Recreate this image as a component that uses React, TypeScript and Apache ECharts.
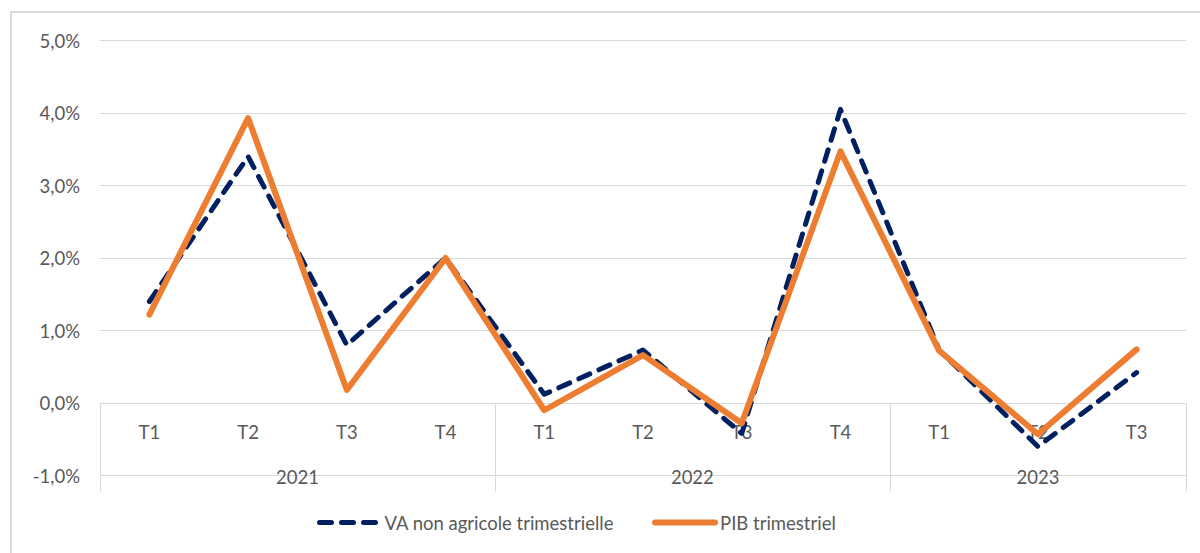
import React, { useEffect, useRef } from "react";
import * as echarts from "echarts";

const quarters = ["T1", "T2", "T3", "T4", "T1", "T2", "T3", "T4", "T1", "T2", "T3"];
const years = ["2021", "2022", "2023"];
const quartersPerYear = [4, 4, 3];
const vaNonAgricole = [1.4, 3.4, 0.8, 2.0, 0.12, 0.73, -0.42, 4.05, 0.73, -0.6, 0.42];
const pibTrimestriel = [1.22, 3.93, 0.18, 2.0, -0.1, 0.66, -0.28, 3.47, 0.72, -0.43, 0.74];
const yTicks = { min: -1, max: 5, interval: 1 };

const TEXT = "#595959";
const GRID = "#d9d9d9";
const FONT = "Lato, 'Noto Sans', sans-serif";
const FS = 18.5;
const NAVY = "#002060";
const ORANGE = "#ED7D31";

export default function App() {
  const ref = useRef<HTMLDivElement>(null);

  useEffect(() => {
    if (!ref.current) return;
    const chart = echarts.init(ref.current, undefined, { renderer: "svg" });

    const starts: number[] = [];
    let acc = 0;
    quartersPerYear.forEach((c) => {
      starts.push(acc);
      acc += c;
    });
    const yearCenters = starts.map((s, i) => s + (quartersPerYear[i] - 1) / 2);
    const separators = [...starts.map((s) => s - 0.5), acc - 0.5];

    const gridTop = 40.5;
    const gridBottom = 77.5;
    const plotH = 553 - gridTop - gridBottom;
    // place the quarter axis on the zero line of the value scale
    const zeroOffset = -((0 - yTicks.min) / (yTicks.max - yTicks.min)) * plotH;

    chart.setOption({
      animation: false,
      textStyle: { fontFamily: FONT },
      graphic: [
        {
          type: "rect",
          shape: { x: 11, y: 12, width: 1200, height: 560 },
          style: { fill: "none", stroke: GRID, lineWidth: 2 },
          silent: true,
        },
      ],
      grid: { left: 100, right: 14, top: gridTop, bottom: gridBottom, containLabel: false },
      legend: {
        left: 312,
        top: 508,
        itemWidth: 60,
        itemHeight: 14,
        itemGap: 38,
        itemStyle: { opacity: 0 },
        textStyle: { color: TEXT, fontSize: FS, fontFamily: FONT },
        data: [
          { name: "VA non agricole trimestrielle", lineStyle: { width: 5, color: NAVY, type: [12, 10], cap: "round" } },
          { name: "PIB trimestriel", lineStyle: { width: 6, color: ORANGE, cap: "round" } },
        ],
      },
      xAxis: [
        {
          type: "category",
          data: quarters,
          boundaryGap: true,
          position: "bottom",
          offset: zeroOffset,
          axisLine: { show: true, onZero: false, lineStyle: { color: GRID, width: 1 } },
          axisTick: { show: false },
          axisLabel: { color: TEXT, fontSize: FS, margin: 19, fontFamily: FONT },
          splitLine: { show: false },
        },
        {
          type: "value",
          position: "bottom",
          offset: 16,
          min: -0.5,
          max: acc - 0.5,
          axisLine: { show: false, onZero: false },
          axisTick: {
            show: true,
            inside: true,
            length: 88,
            customValues: separators,
            lineStyle: { color: GRID, width: 1 },
          },
          axisLabel: {
            show: true,
            inside: true,
            margin: 5,
            customValues: yearCenters,
            color: TEXT,
            fontSize: FS,
            fontFamily: FONT,
            formatter: (v: number) => {
              const i = yearCenters.findIndex((c) => Math.abs(c - v) < 1e-6);
              return i >= 0 ? years[i] : "";
            },
          },
          splitLine: { show: false },
        },
      ],
      yAxis: {
        type: "value",
        min: yTicks.min,
        max: yTicks.max,
        interval: yTicks.interval,
        axisLine: { show: false, onZero: false },
        axisTick: { show: false },
        axisLabel: {
          color: TEXT,
          fontSize: FS,
          margin: 20,
          fontFamily: FONT,
          formatter: (v: number) => v.toFixed(1).replace(".", ",") + "%",
        },
        splitLine: { lineStyle: { color: GRID, width: 1 } },
      },
      series: [
        {
          name: "VA non agricole trimestrielle",
          type: "line",
          xAxisIndex: 0,
          data: vaNonAgricole,
          symbol: "none",
          lineStyle: { color: NAVY, width: 5, type: [12, 10], cap: "round", join: "round" },
          itemStyle: { color: NAVY },
        },
        {
          name: "PIB trimestriel",
          type: "line",
          xAxisIndex: 0,
          data: pibTrimestriel,
          symbol: "none",
          lineStyle: { color: ORANGE, width: 6, cap: "round", join: "round" },
          itemStyle: { color: ORANGE },
        },
      ],
    });

    return () => chart.dispose();
  }, []);

  return (
    <div
      ref={ref}
      style={{ position: "fixed", left: 0, top: 0, width: 1200, height: 553, background: "#fff" }}
    />
  );
}
